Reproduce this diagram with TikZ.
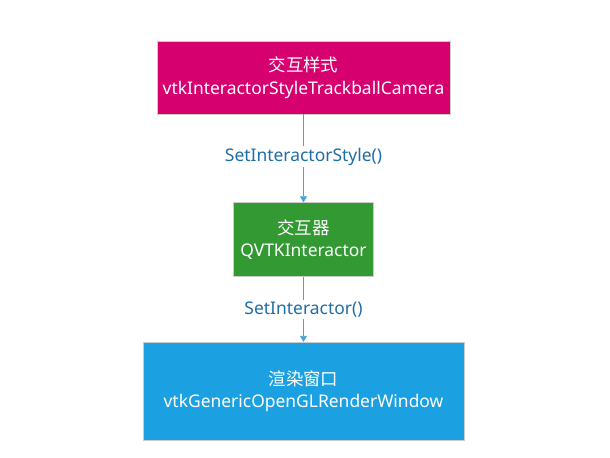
\documentclass[tikz,border=0pt]{standalone}
\usepackage{fontspec}
\setmainfont{Noto Sans}
\newfontfamily\cjk{Noto Sans CJK SC}
\usetikzlibrary{arrows.meta, positioning}

\definecolor{boxmagenta}{RGB}{214,0,111}
\definecolor{boxgreen}{RGB}{51,153,51}
\definecolor{boxblue}{RGB}{27,161,226}
\definecolor{linkblue}{RGB}{30,110,165}
\definecolor{arrowblue}{RGB}{80,160,215}

\begin{document}
\begin{tikzpicture}[
    x=1bp, y=1bp,
    block/.style = {draw=white!80!black, line width=0.6bp, text=white, align=center,
                    font=\fontsize{17.5}{23}\selectfont, inner sep=0pt},
    call/.style = {fill=white, text=linkblue, font=\fontsize{17.5}{20}\selectfont, inner sep=2bp},
    arrow/.style = {arrowblue, line width=0.7bp, -{Triangle[width=7bp, length=6bp]}},
    node distance=88bp
  ]
  \useasboundingbox (0,0) rectangle (610,-458);

  % Nodes
  \node[block, fill=boxmagenta, minimum width=293bp, minimum height=73bp] (style) at (303.5,-77.5)
    {{\cjk 交互样式}\\vtkInteractorStyleTrackballCamera};
  \node[block, fill=boxgreen, minimum width=140bp, minimum height=74bp, below=88bp of style] (interactor)
    {{\cjk 交互器}\\QVTKInteractor};
  \node[block, fill=boxblue, minimum width=321bp, minimum height=98bp, below=65bp of interactor] (window)
    {{\cjk 渲染窗口}\\vtkGenericOpenGLRenderWindow};

  % Connectors
  \draw[arrow] (style) -- node[call, pos=0.48] {SetInteractorStyle()} (interactor);
  \draw[arrow] (interactor) -- node[call, pos=0.5] {SetInteractor()} (window);

\end{tikzpicture}
\end{document}
